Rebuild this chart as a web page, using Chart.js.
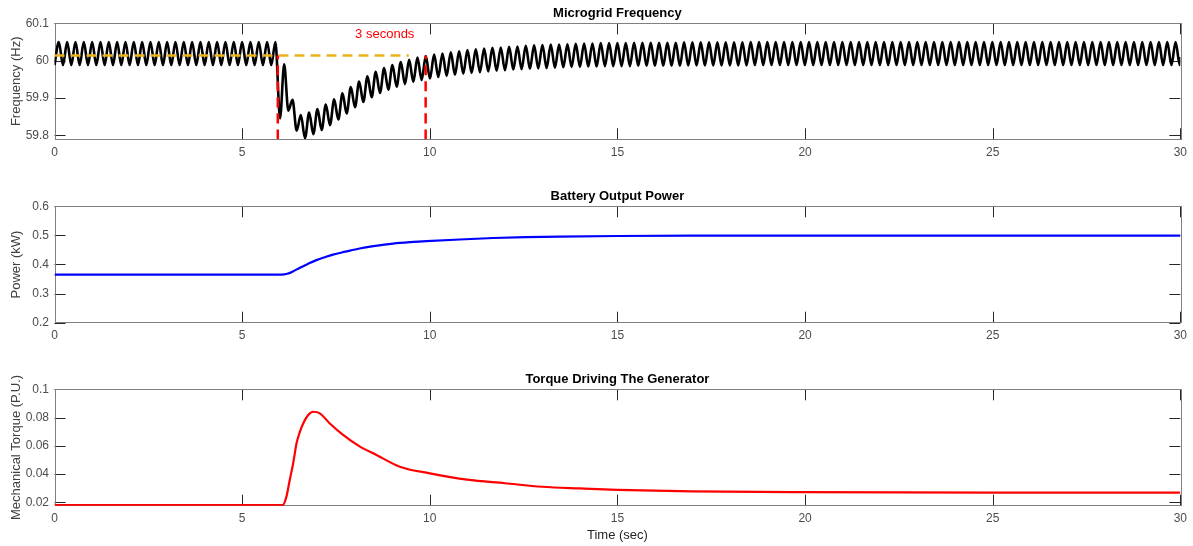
<!DOCTYPE html>
<html>
<head>
<meta charset="utf-8">
<script src="https://cdn.jsdelivr.net/npm/chart.js@4.4.1/dist/chart.umd.min.js"></script>
<style>
  html, body { margin: 0; padding: 0; background: #fff; }
  #wrap { position: relative; width: 1193px; height: 546px; overflow: hidden; }
  #wrap canvas { position: absolute; left: 0; }
</style>
</head>
<body>
<div id="wrap">
  <canvas id="freqChart" width="1193" height="183" style="top:0px"></canvas>
  <canvas id="powerChart" width="1193" height="183" style="top:183px"></canvas>
  <canvas id="torqueChart" width="1193" height="180" style="top:366px"></canvas>
</div>
<script>
const timeTicks = [0, 5, 10, 15, 20, 25, 30];
const freqTicks = [59.8, 59.9, 60, 60.1];
const powerTicks = [0.2, 0.3, 0.4, 0.5, 0.6];
const torqueTicks = [0.02, 0.04, 0.06, 0.08, 0.1];

// microgrid frequency, sampled at each swing peak / trough
const freqTime = [
  0, 0.115, 0.226, 0.337, 0.448, 0.559, 0.670, 0.781, 0.892, 1.003,
  1.114, 1.225, 1.336, 1.447, 1.558, 1.669, 1.780, 1.891, 2.002, 2.113,
  2.224, 2.335, 2.446, 2.557, 2.668, 2.779, 2.890, 3.001, 3.112, 3.223,
  3.334, 3.445, 3.556, 3.667, 3.778, 3.889, 4.000, 4.111, 4.222, 4.333,
  4.444, 4.555, 4.666, 4.777, 4.888, 4.999, 5.110, 5.221, 5.332, 5.443,
  5.554, 5.665, 5.776, 5.887, 6.010,
  6.120, 6.231, 6.342, 6.453, 6.564, 6.675, 6.786, 6.897, 7.008, 7.119,
  7.230, 7.341, 7.452, 7.563, 7.674, 7.785, 7.896, 8.007, 8.118, 8.229,
  8.340, 8.451, 8.562, 8.673, 8.784, 8.895, 9.006, 9.117, 9.228, 9.339,
  9.450, 9.561, 9.672, 9.783, 9.894, 10.005, 10.116, 10.227, 10.338, 10.449,
  10.560, 10.671, 10.782, 10.893, 11.004, 11.115, 11.226, 11.337, 11.448, 11.559,
  11.670, 11.781, 11.892, 12.003, 12.114, 12.225, 12.336, 12.447, 12.558, 12.669,
  12.780, 12.891, 13.002, 13.113, 13.224, 13.335, 13.446, 13.557, 13.668, 13.779,
  13.890, 14.001, 14.112, 14.223, 14.334, 14.445, 14.556, 14.667, 14.778, 14.889,
  15.000, 15.111, 15.222, 15.333, 15.444, 15.555, 15.666, 15.777, 15.888, 15.999,
  16.110, 16.221, 16.332, 16.443, 16.554, 16.665, 16.776, 16.887, 16.998, 17.109,
  17.220, 17.331, 17.442, 17.553, 17.664, 17.775, 17.886, 17.997, 18.108, 18.219,
  18.330, 18.441, 18.552, 18.663, 18.774, 18.885, 18.996, 19.107, 19.218, 19.329,
  19.440, 19.551, 19.662, 19.773, 19.884, 19.995, 20.106, 20.217, 20.328, 20.439,
  20.550, 20.661, 20.772, 20.883, 20.994, 21.105, 21.216, 21.327, 21.438, 21.549,
  21.660, 21.771, 21.882, 21.993, 22.104, 22.215, 22.326, 22.437, 22.548, 22.659,
  22.770, 22.881, 22.992, 23.103, 23.214, 23.325, 23.436, 23.547, 23.658, 23.769,
  23.880, 23.991, 24.102, 24.213, 24.324, 24.435, 24.546, 24.657, 24.768, 24.879,
  24.990, 25.101, 25.212, 25.323, 25.434, 25.545, 25.656, 25.767, 25.878, 25.989,
  26.100, 26.211, 26.322, 26.433, 26.544, 26.655, 26.766, 26.877, 26.988, 27.099,
  27.210, 27.321, 27.432, 27.543, 27.654, 27.765, 27.876, 27.987, 28.098, 28.209,
  28.320, 28.431, 28.542, 28.653, 28.764, 28.875, 28.986, 29.097, 29.208, 29.319,
  29.430, 29.541, 29.652, 29.763, 29.874, 29.985, 30
];
const freqHz = [
  59.988, 60.050, 59.988, 60.050, 59.988, 60.050, 59.988, 60.050, 59.988, 60.050,
  59.988, 60.050, 59.988, 60.050, 59.988, 60.050, 59.988, 60.050, 59.988, 60.050,
  59.988, 60.050, 59.988, 60.050, 59.988, 60.050, 59.988, 60.050, 59.988, 60.050,
  59.988, 60.050, 59.988, 60.050, 59.988, 60.050, 59.988, 60.050, 59.988, 60.050,
  59.988, 60.050, 59.988, 60.050, 59.988, 60.050, 59.988, 60.050, 59.988, 60.050,
  59.988, 60.050, 59.988, 60.050, 59.845,
  59.990, 59.866, 59.895, 59.812, 59.854, 59.792, 59.861, 59.803, 59.870, 59.814,
  59.882, 59.827, 59.896, 59.842, 59.912, 59.858, 59.929, 59.875, 59.944, 59.889,
  59.958, 59.902, 59.970, 59.913, 59.980, 59.922, 59.988, 59.930, 59.996, 59.937,
  60.002, 59.943, 60.008, 59.948, 60.012, 59.952, 60.016, 59.956, 60.019, 59.959,
  60.022, 59.962, 60.025, 59.965, 60.028, 59.967, 60.030, 59.969, 60.032, 59.971,
  60.034, 59.973, 60.035, 59.974, 60.037, 59.976, 60.038, 59.977, 60.040, 59.978,
  60.041, 59.979, 60.042, 59.980, 60.043, 59.981, 60.043, 59.982, 60.044, 59.983,
  60.045, 59.983, 60.046, 59.984, 60.046, 59.984, 60.047, 59.985, 60.047, 59.985,
  60.047, 59.985, 60.047, 59.985, 60.048, 59.986, 60.048, 59.986, 60.048, 59.986,
  60.048, 59.986, 60.048, 59.986, 60.048, 59.986, 60.049, 59.987, 60.049, 59.987,
  60.049, 59.987, 60.049, 59.987, 60.049, 59.987, 60.049, 59.987, 60.049, 59.987,
  60.049, 59.987, 60.050, 59.988, 60.050, 59.988, 60.050, 59.988, 60.050, 59.988,
  60.050, 59.988, 60.050, 59.988, 60.050, 59.988, 60.050, 59.988, 60.050, 59.988,
  60.050, 59.988, 60.050, 59.988, 60.050, 59.988, 60.050, 59.988, 60.050, 59.988,
  60.050, 59.988, 60.050, 59.988, 60.050, 59.988, 60.050, 59.988, 60.050, 59.988,
  60.050, 59.988, 60.050, 59.988, 60.050, 59.988, 60.050, 59.988, 60.050, 59.988,
  60.050, 59.988, 60.050, 59.988, 60.050, 59.988, 60.050, 59.988, 60.050, 59.988,
  60.050, 59.988, 60.050, 59.988, 60.050, 59.988, 60.050, 59.988, 60.050, 59.988,
  60.050, 59.988, 60.050, 59.988, 60.050, 59.988, 60.050, 59.988, 60.050, 59.988,
  60.050, 59.988, 60.050, 59.988, 60.050, 59.988, 60.050, 59.988, 60.050, 59.988,
  60.050, 59.988, 60.050, 59.988, 60.050, 59.988, 60.050, 59.988, 60.050, 59.988,
  60.050, 59.988, 60.050, 59.988, 60.050, 59.988, 60.010
];

// dashed markers on the frequency plot
const nominalHz = 60.0135;
const nominalSpan = [0, 9.44];
const eventTimes = [5.95, 9.89];
const settleNote = { text: '3 seconds', x: 8.8, y: 60.07 };

const powerTime = [0, 6.05, 6.2, 6.35, 6.54, 6.75, 6.98, 7.2, 7.42, 7.75, 8.13, 8.5,
  9.02, 9.5, 9.91, 10.8, 11.69, 12.58, 13.46, 15, 17, 20, 30];
const powerKw = [0.365, 0.365, 0.368, 0.376, 0.389, 0.402, 0.415, 0.425, 0.434, 0.444, 0.455, 0.463,
  0.472, 0.477, 0.480, 0.486, 0.491, 0.494, 0.496, 0.498, 0.499, 0.4995, 0.4995];

const torqueTime = [0, 6.08, 6.18, 6.27, 6.36, 6.45, 6.54, 6.63, 6.76, 6.89, 7.07, 7.33, 7.69,
  8.14, 8.58, 9.2, 10, 11, 12, 13, 14, 15, 17, 20, 25, 30];
const torquePu = [0.018, 0.018, 0.024, 0.036, 0.0476, 0.0618, 0.070, 0.076, 0.0818, 0.0841, 0.083, 0.076, 0.0677,
  0.0594, 0.0535, 0.0452, 0.0405, 0.036, 0.0335, 0.031, 0.0298, 0.0288, 0.0278, 0.0272, 0.0268, 0.0268];

const FONT = '"Liberation Sans", Arial, Helvetica, sans-serif';
Chart.defaults.font.family = FONT;
Chart.defaults.font.size = 12;
Chart.defaults.color = '#4d4d4d';

const pts = (xs, ys) => xs.map((x, i) => ({ x, y: ys[i] }));
const fmt = v => String(Math.round(v * 1000) / 1000);

// box frame, inward ticks on all four sides, and the text drawn around the axes
const axesBox = {
  id: 'axesBox',
  beforeDatasetsDraw(chart, args, opts) {
    const { ctx, chartArea: a, scales: { x, y } } = chart;
    ctx.save();
    ctx.lineWidth = 1;
    ctx.strokeStyle = '#262626';
    ctx.beginPath();
    x.ticks.forEach(t => {
      const px = Math.round(x.getPixelForValue(t.value)) + 0.5;
      ctx.moveTo(px, a.bottom); ctx.lineTo(px, a.bottom - 11);
      ctx.moveTo(px, a.top); ctx.lineTo(px, a.top + 11);
    });
    y.ticks.forEach(t => {
      const py = Math.round(y.getPixelForValue(t.value)) + 0.5;
      ctx.moveTo(a.left, py); ctx.lineTo(a.left + 11, py);
      ctx.moveTo(a.right, py); ctx.lineTo(a.right - 11, py);
    });
    ctx.stroke();
    ctx.strokeStyle = '#808080';
    ctx.strokeRect(Math.round(a.left) + 0.5, Math.round(a.top) + 0.5,
      Math.round(a.right - a.left), Math.round(a.bottom - a.top));
    ctx.restore();
  },
  afterDraw(chart, args, opts) {
    const { ctx, chartArea: a, scales: { x, y } } = chart;
    const cx = (a.left + a.right) / 2;
    ctx.save();
    ctx.textAlign = 'center';
    ctx.textBaseline = 'middle';
    ctx.fillStyle = '#000';
    ctx.font = 'bold 13px ' + FONT;
    ctx.fillText(opts.title, cx, a.top - 9.5);
    if (opts.xlabel) {
      ctx.font = '13px ' + FONT;
      ctx.fillStyle = '#262626';
      ctx.fillText(opts.xlabel, cx, a.bottom + 29.5);
    }
    if (opts.note) {
      ctx.font = '13px ' + FONT;
      ctx.fillStyle = '#ff0000';
      ctx.fillText(opts.note.text, x.getPixelForValue(opts.note.x), y.getPixelForValue(opts.note.y));
    }
    ctx.restore();
  }
};

function makeChart(id, datasets, yTicks, yMin, yMax, yTitle, extra, xHeight) {
  return new Chart(document.getElementById(id), {
    type: 'line',
    data: { datasets },
    options: {
      responsive: false,
      animation: false,
      devicePixelRatio: 1,
      layout: { padding: { left: 0, right: 11.5, top: 23.3, bottom: 0 } },
      elements: { point: { radius: 0 } },
      plugins: { legend: { display: false }, tooltip: { enabled: false }, axesBox: extra },
      scales: {
        x: {
          type: 'linear', min: 0, max: 30,
          afterBuildTicks: s => { s.ticks = timeTicks.map(value => ({ value })); },
          afterFit: s => { s.height = xHeight; },
          grid: { display: false, drawTicks: false }, border: { display: false },
          ticks: { autoSkip: false, maxRotation: 0, padding: 6, callback: fmt }
        },
        y: {
          type: 'linear', min: yMin, max: yMax,
          afterBuildTicks: s => { s.ticks = yTicks.map(value => ({ value })); },
          afterFit: s => { s.width = 54.5; },
          grid: { display: false, drawTicks: false }, border: { display: false },
          ticks: { autoSkip: false, padding: 5.5, callback: fmt },
          title: { display: true, text: yTitle, color: '#404040', font: { size: 13 }, padding: { top: 9, bottom: 0 } }
        }
      }
    },
    plugins: [axesBox]
  });
}

const line = (data, color, width, extra) => Object.assign({
  data, borderColor: color, borderWidth: width, fill: false,
  cubicInterpolationMode: 'monotone', pointRadius: 0
}, extra || {});

makeChart('freqChart', [
  line(pts(freqTime, freqHz), '#000000', 2.6, { order: 3 }),
  line(pts(nominalSpan, [nominalHz, nominalHz]), '#edb120', 2.5, { order: 2, borderDash: [10, 6] }),
  line(pts([eventTimes[0], eventTimes[0]], [59.789, nominalHz]), '#ff0000', 2.5, { order: 1, borderDash: [10, 6] }),
  line(pts([eventTimes[1], eventTimes[1]], [59.789, nominalHz]), '#ff0000', 2.5, { order: 1, borderDash: [10, 6] })
], freqTicks, 59.789, 60.1, 'Frequency (Hz)',
  { title: 'Microgrid Frequency', note: settleNote }, 183 - 139.3);

makeChart('powerChart', [
  line(pts(powerTime, powerKw), '#0000ff', 2.2)
], powerTicks, 0.2, 0.6, 'Power (kW)',
  { title: 'Battery Output Power' }, 183 - 139.7);

makeChart('torqueChart', [
  line(pts(torqueTime, torquePu), '#ff0000', 2.2)
], torqueTicks, 0.0176, 0.1, 'Mechanical Torque (P.U.)',
  { title: 'Torque Driving The Generator', xlabel: 'Time (sec)' }, 180 - 139.7);
</script>
</body>
</html>
